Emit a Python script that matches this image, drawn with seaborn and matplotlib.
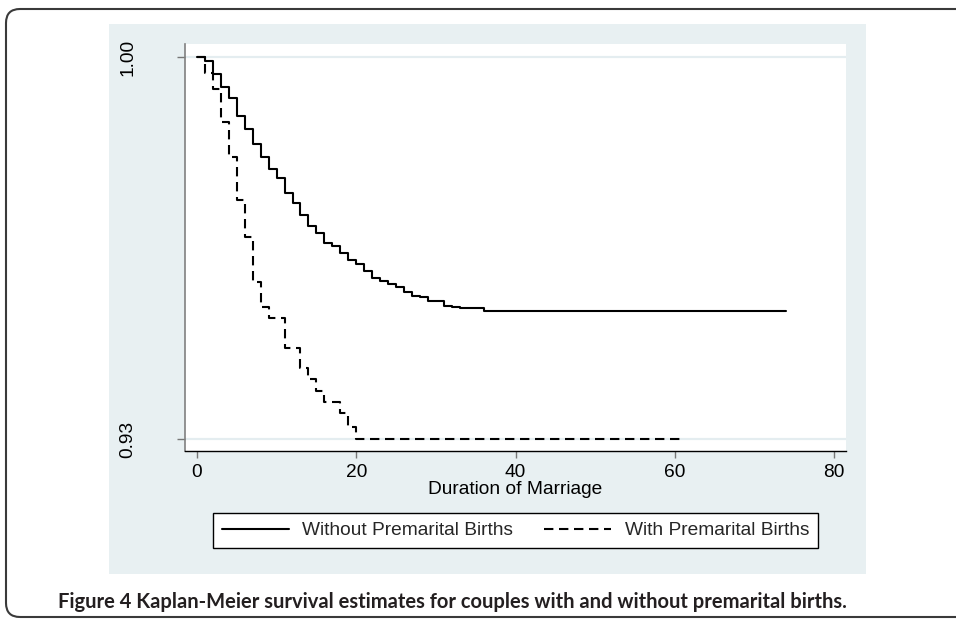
import numpy as np
import pandas as pd
import matplotlib
matplotlib.use("Agg")
import matplotlib.pyplot as plt
import seaborn as sns
from matplotlib.patches import FancyBboxPatch, Rectangle
from matplotlib.lines import Line2D
from matplotlib.transforms import IdentityTransform

# ---------------- data ----------------
groups = ["Without Premarital Births", "With Premarital Births"]

t_without = [0, 1, 2, 3, 4, 5, 6, 7, 8, 9, 10, 11, 12, 13, 14, 15, 16, 17, 18, 19,
             20, 21, 22, 23, 24, 25, 26, 27, 28, 29, 31, 32, 33, 36, 74]
s_without = [1.0, 0.99932, 0.99694, 0.99456, 0.99243, 0.98919, 0.98675, 0.98406,
             0.98162, 0.97948, 0.97777, 0.97513, 0.97319, 0.97105, 0.96909, 0.96769,
             0.96597, 0.96530, 0.96403, 0.96280, 0.96200, 0.96084, 0.95945, 0.95900,
             0.95840, 0.95790, 0.95700, 0.95620, 0.95596, 0.95534, 0.95437, 0.95420,
             0.95400, 0.95351, 0.95351]

t_with = [0, 1, 2, 3, 4, 5, 6, 7, 8, 9, 11, 13, 14, 15, 16, 18, 19, 20, 61]
s_with = [1.0, 0.99701, 0.99414, 0.98815, 0.98162, 0.97380, 0.96707, 0.95871,
          0.95413, 0.95212, 0.94662, 0.94295, 0.94094, 0.93885, 0.93683, 0.93471,
          0.93225, 0.93000, 0.93000]

x_ticks = [0, 20, 40, 60, 80]
y_ticks = [0.93, 1.00]
y_ticklabels = ["0.93", "1.00"]
x_label = "Duration of Marriage"
caption = "Figure 4 Kaplan-Meier survival estimates for couples with and without premarital births."

df = pd.concat([
    pd.DataFrame({"t": t_without, "S": s_without, "group": groups[0]}),
    pd.DataFrame({"t": t_with, "S": s_with, "group": groups[1]}),
], ignore_index=True)

# ---------------- style ----------------
sns.set_theme(style="white")
plt.rcParams["font.family"] = ["Liberation Sans", "DejaVu Sans"]

W, H, DPI = 956, 619, 100
fig = plt.figure(figsize=(W / DPI, H / DPI), dpi=DPI)
fig.patch.set_facecolor("white")

def fx(px):
    return px / W

def fy(py):
    return 1 - py / H

# Stata-like graph region (light bluish gray)
fig.patches.append(Rectangle((fx(109), fy(574)), fx(866) - fx(109), fy(24) - fy(574),
                             transform=fig.transFigure, facecolor="#E8F0F2",
                             edgecolor="none", zorder=0))

# outer rounded frame (extends past right edge)
fig.patches.append(FancyBboxPatch((6, H - 617), 1000, 608,
                                  boxstyle="round,pad=0,rounding_size=14",
                                  transform=IdentityTransform(), facecolor="none",
                                  edgecolor="#3a3a3a", linewidth=1.5, zorder=1))

ax = fig.add_axes([fx(185), fy(451), fx(846) - fx(185), fy(44) - fy(451)])
ax.set_facecolor("white")
ax.set_zorder(2)

lw = 1.5
dash = (4.5, 2.7)
sns.lineplot(data=df, x="t", y="S", hue="group", style="group",
             palette={groups[0]: "black", groups[1]: "black"},
             dashes={groups[0]: "", groups[1]: dash},
             drawstyle="steps-post", estimator=None, sort=False,
             linewidth=lw, legend=False, ax=ax)

ax.set_xlim(-1.5, 81.5)
ax.set_ylim(0.92782, 1.00238)
ax.set_xticks(x_ticks)
ax.set_xticklabels([str(v) for v in x_ticks])
ax.set_yticks(y_ticks)
ax.set_yticklabels(y_ticklabels, rotation=90, va="center")

fs = 13.8
ax.tick_params(axis="x", length=5, width=1.0, color="#777777", pad=4.3,
               labelsize=fs, labelcolor="black", bottom=True)
ax.tick_params(axis="y", length=5.8, width=1.0, color="#777777", pad=29,
               labelsize=fs, labelcolor="black", left=True)
ax.set_xlabel(x_label, fontsize=fs, labelpad=0, color="black")
ax.set_ylabel("")

ax.yaxis.grid(True, color="#E4EDF0", linewidth=1.6)
ax.xaxis.grid(False)
ax.set_axisbelow(True)

for side in ("top", "right"):
    ax.spines[side].set_visible(False)
ax.spines["left"].set_color("#808080")
ax.spines["left"].set_linewidth(1.2)
ax.spines["bottom"].set_color("black")
ax.spines["bottom"].set_linewidth(1.0)

# legend
handles = [Line2D([], [], color="black", lw=lw),
           Line2D([], [], color="black", lw=lw, dashes=dash)]
leg = fig.legend(handles, groups, loc="center",
                 bbox_to_anchor=(fx((206 + 825) / 2), fy(530.5)),
                 ncol=2, fontsize=fs, frameon=True, fancybox=False,
                 edgecolor="black", facecolor="white", framealpha=1,
                 handlelength=3.5, handletextpad=0.72, columnspacing=1.6,
                 borderpad=0.45, borderaxespad=0)
leg.get_frame().set_linewidth(1.0)
leg.set_zorder(3)

# caption fitted to the reference width
cap = fig.text(fx(58), fy(608), caption, fontfamily=["Lato", "DejaVu Sans"],
               fontweight="bold", fontsize=12, color="#231F20", va="baseline", ha="left")
fig.canvas.draw()
r = fig.canvas.get_renderer()
wpx = cap.get_window_extent(r).width
cap.set_fontsize(12 * 785 / wpx)

fig.savefig("out.png", dpi=DPI)
